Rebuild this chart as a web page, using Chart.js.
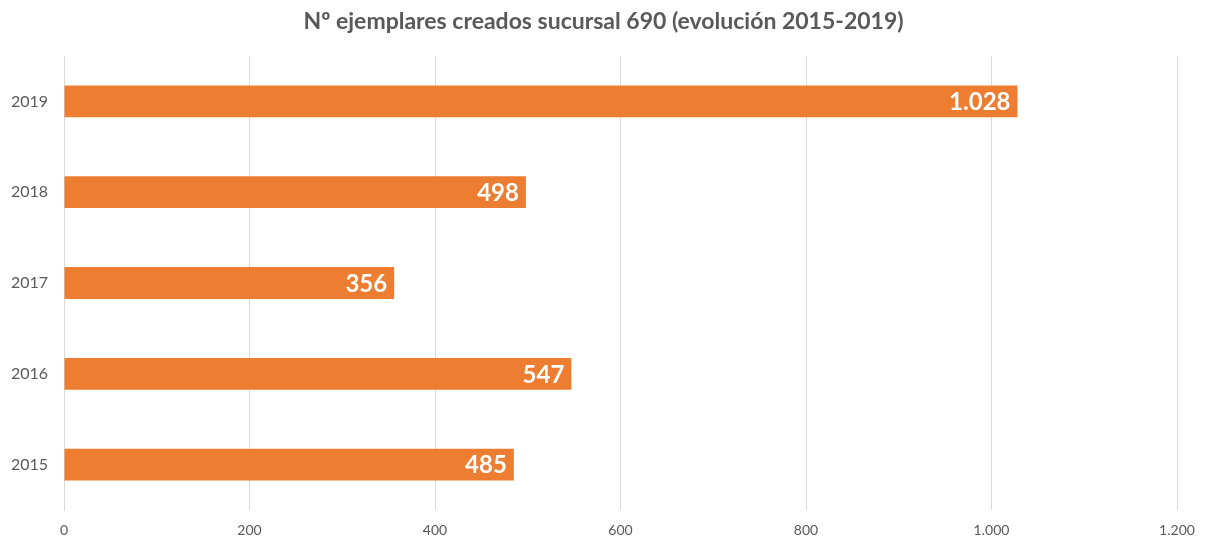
<!DOCTYPE html>
<html lang="es">
<head>
    <meta charset="utf-8">
    <title>Nº ejemplares creados sucursal 690</title>
    <script src="https://cdn.jsdelivr.net/npm/chart.js@4.4.1/dist/chart.umd.min.js"></script>
    <style>
        body { margin: 0; background: #ffffff; }
        #wrap { width: 1207px; height: 540px; position: relative; }
    </style>
</head>
<body>
    <div id="wrap"><canvas id="chart"></canvas></div>
    <script>
        const years = ['2019', '2018', '2017', '2016', '2015'];
        const ejemplares = [1028, 498, 356, 547, 485];
        const xTicks = [0, 200, 400, 600, 800, 1000, 1200];
        const titleText = 'Nº ejemplares creados sucursal 690 (evolución 2015-2019)';

        const textColor = '#595959';
        const barColor = '#ED7D31';
        const fontFamily = 'Lato, "Open Sans", sans-serif';

        function fmt(n) {
            return String(n).replace(/\B(?=(\d{3})+(?!\d))/g, '.');
        }

        // white bold labels inside the end of each bar
        const barLabels = {
            id: 'barLabels',
            afterDatasetsDraw(chart) {
                const ctx = chart.ctx;
                const meta = chart.getDatasetMeta(0);
                ctx.save();
                ctx.font = 'bold 24px ' + fontFamily;
                ctx.fillStyle = '#ffffff';
                ctx.textAlign = 'right';
                ctx.textBaseline = 'middle';
                meta.data.forEach((bar, i) => {
                    ctx.fillText(fmt(ejemplares[i]), bar.x - 7, bar.y + 1);
                });
                ctx.restore();
            }
        };

        // title centred on the whole canvas (built-in title follows the layout padding)
        const centredTitle = {
            id: 'centredTitle',
            afterDraw(chart) {
                const ctx = chart.ctx;
                ctx.save();
                ctx.font = 'bold 23px ' + fontFamily;
                ctx.fillStyle = textColor;
                ctx.textAlign = 'center';
                ctx.textBaseline = 'middle';
                ctx.fillText(titleText, chart.width / 2, 22);
                ctx.restore();
            }
        };

        new Chart(document.getElementById('chart'), {
            type: 'bar',
            data: {
                labels: years,
                datasets: [{
                    data: ejemplares,
                    backgroundColor: barColor,
                    borderWidth: 0,
                    categoryPercentage: 0.35,
                    barPercentage: 1
                }]
            },
            options: {
                indexAxis: 'y',
                responsive: true,
                maintainAspectRatio: false,
                animation: false,
                layout: { padding: { top: 56, right: 30, bottom: 0, left: 0 } },
                plugins: {
                    legend: { display: false },
                    tooltip: { enabled: false },
                    title: { display: false }
                },
                scales: {
                    x: {
                        min: 0,
                        max: 1200,
                        afterBuildTicks: axis => { axis.ticks = xTicks.map(v => ({ value: v })); },
                        afterFit: axis => { axis.height = 30; },
                        ticks: {
                            color: textColor,
                            font: { family: fontFamily, size: 14 },
                            padding: 12,
                            callback: v => fmt(v)
                        },
                        grid: { color: '#d9d9d9', lineWidth: 1, drawTicks: false },
                        border: { display: false }
                    },
                    y: {
                        afterFit: axis => { axis.width = 64; },
                        ticks: {
                            color: textColor,
                            font: { family: fontFamily, size: 16 },
                            padding: 16
                        },
                        grid: { display: false, drawTicks: false },
                        border: { display: true, color: '#d9d9d9' }
                    }
                }
            },
            plugins: [barLabels, centredTitle]
        });
    </script>
</body>
</html>
